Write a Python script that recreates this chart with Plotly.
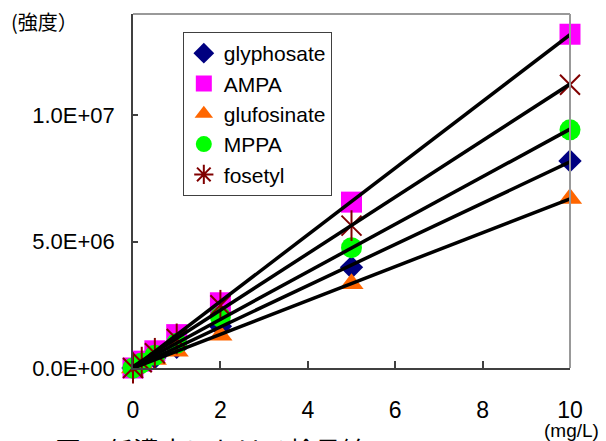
import numpy as np
import plotly.graph_objects as go

conc = [0, 0.2, 0.5, 1, 2, 5, 10]
glyphosate = [0, 0.17e6, 0.41e6, 0.82e6, 1.65e6, 3.98e6, 8.19e6]
ampa = [0, 0.27e6, 0.68e6, 1.32e6, 2.58e6, 6.56e6, 13.2e6]
glufosinate = [0, 0.14e6, 0.34e6, 0.66e6, 1.30e6, 3.33e6, 6.70e6]
mppa = [0, 0.20e6, 0.50e6, 0.98e6, 2.02e6, 4.76e6, 9.42e6]
fosetyl = [0, 0.23e6, 0.58e6, 1.15e6, 2.48e6, 5.63e6, 11.2e6]

y_tickvals = [0, 5e6, 1e7]
y_ticktext = ["0.0E+00", "5.0E+06", "1.0E+07"]
x_tickvals = [0, 2, 4, 6, 8, 10]

FONT = "Liberation Sans, Arial, sans-serif"
CJK = "Noto Sans CJK JP, sans-serif"

series = [
    ("glyphosate", glyphosate, "diamond", "#000080", 18),
    ("AMPA", ampa, "square", "#FF00FF", 21),
    ("glufosinate", glufosinate, "triangle-up", "#FF6600", 21),
    ("MPPA", mppa, "circle", "#00FF00", 21),
]

fig = go.Figure()
for name, ys, sym, col, sz in series:
    fig.add_trace(go.Scatter(
        x=conc, y=ys, mode="markers", name=name,
        marker=dict(symbol=sym, color=col, size=sz, line=dict(width=0)),
        cliponaxis=False))

# legend entry for fosetyl (no points of its own)
fig.add_trace(go.Scatter(
    x=[None], y=[None], mode="markers", name="fosetyl", legendgroup="fos",
    marker=dict(symbol="asterisk-open", color="#800000", size=18,
                line=dict(width=2, color="#800000")),
    showlegend=True, hoverinfo="skip"))
fig.add_trace(go.Scatter(
    x=conc, y=fosetyl, mode="markers", name="fosetyl", legendgroup="fos",
    showlegend=False,
    marker=dict(symbol="x-thin-open", color="#800000", size=20,
                line=dict(width=2, color="#800000")),
    cliponaxis=False))
fig.add_trace(go.Scatter(
    x=conc, y=fosetyl, mode="markers", name="fosetyl", legendgroup="fos",
    showlegend=False,
    marker=dict(symbol="line-ns-open", color="#800000", size=22,
                line=dict(width=2, color="#800000")),
    cliponaxis=False))

# linear calibration (least squares) lines
xfit = np.array([0, 10])
for name, ys in [("glyphosate", glyphosate), ("AMPA", ampa),
                 ("glufosinate", glufosinate), ("MPPA", mppa),
                 ("fosetyl", fosetyl)]:
    a, b = np.polyfit(conc, ys, 1)
    fig.add_trace(go.Scatter(
        x=xfit, y=a * xfit + b, mode="lines", showlegend=False,
        line=dict(color="black", width=3.5), cliponaxis=False,
        hoverinfo="skip"))

fig.update_layout(
    width=606, height=441,
    margin=dict(l=133, r=36, t=14, b=73),
    paper_bgcolor="white", plot_bgcolor="white",
    font=dict(family=FONT, size=22, color="black"),
    showlegend=True,
    legend=dict(x=0.114, y=0.949, xanchor="left", yanchor="top",
                bgcolor="white", bordercolor="#404040", borderwidth=1,
                font=dict(family=FONT, size=21, color="black"),
                itemsizing="trace", tracegroupgap=0),
    xaxis=dict(range=[0, 10], tickvals=x_tickvals, ticks="inside",
               ticklen=7, tickwidth=1.5, tickcolor="#404040",
               showline=True, linecolor="#404040", linewidth=1.5,
               showgrid=False, zeroline=False, ticklabelstandoff=21,
               tickfont=dict(family=FONT, size=23)),
    yaxis=dict(range=[0, 1.4e7], tickvals=y_tickvals, ticktext=y_ticktext,
               ticks="inside", ticklen=5, tickwidth=1.5, tickcolor="#404040",
               showline=True, linecolor="#404040", linewidth=1.5,
               showgrid=False, zeroline=False, ticklabelstandoff=12,
               tickfont=dict(family=FONT, size=22)),
    shapes=[
        dict(type="line", xref="paper", yref="paper", x0=0, x1=1, y0=1, y1=1,
             line=dict(color="#999999", width=2)),
        dict(type="line", xref="paper", yref="paper", x0=1, x1=1, y0=0, y1=1,
             line=dict(color="#999999", width=2)),
    ],
    annotations=[
        dict(text="(強度）", xref="paper", yref="paper",
             x=-133 / 437 + 9 / 437, y=1 + 14 / 354 - 5 / 354,
             xanchor="left", yanchor="top", showarrow=False,
             font=dict(family=CJK, size=20, color="black")),
        dict(text="(mg/L)", xref="paper", yref="paper",
             x=1 + 31 / 437, y=-50 / 354, xanchor="right", yanchor="top",
             showarrow=False, font=dict(family=FONT, size=19, color="black")),
        dict(text="図7  低濃度における検量線", xref="paper", yref="paper",
             x=-80 / 437, y=-61 / 354, xanchor="left", yanchor="top",
             showarrow=False, font=dict(family=CJK, size=26, color="black")),
    ],
)

fig.write_html("out.html")
